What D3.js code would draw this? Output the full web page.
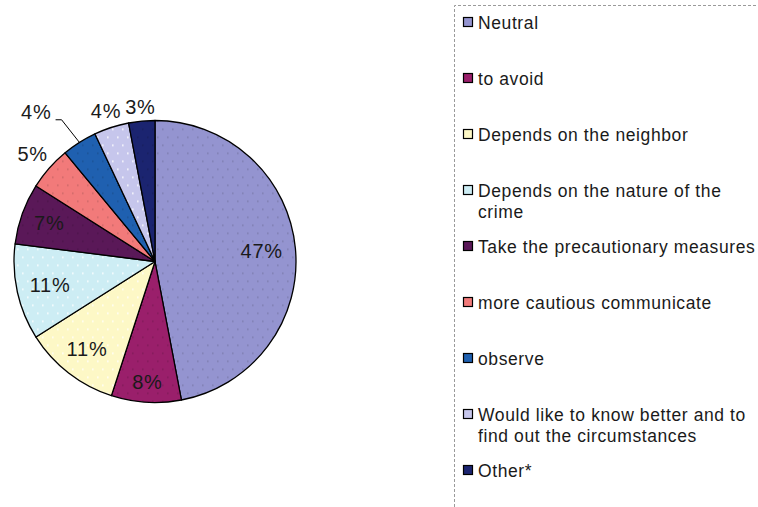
<!DOCTYPE html>
<html>
<head>
<meta charset="utf-8">
<script src="https://cdn.jsdelivr.net/npm/d3@7"></script>
<style>
  html, body { margin: 0; padding: 0; background: #fff; overflow: hidden; }
  svg { display: block; font-family: "Liberation Sans", Arial, sans-serif; }
</style>
</head>
<body>
<svg id="chart" width="758" height="507"></svg>
<script>
// ---- data ----
const categories = [
  "Neutral",
  "to avoid",
  "Depends on the neighbor",
  "Depends on the nature of the\ncrime",
  "Take the precautionary measures",
  "more cautious communicate",
  "observe",
  "Would like to know better and to\nfind out the circumstances",
  "Other*"
];
const values = [47, 8, 11, 11, 7, 5, 4, 4, 3];
const valueLabels = ["47%", "8%", "11%", "11%", "7%", "5%", "4%", "4%", "3%"];
const colors = ["#9494d0", "#9a1f6b", "#fdf8c6", "#cdedf4", "#5a1858",
                "#f27a7a", "#1f60b0", "#c6c6ec", "#1b2470"];

// ---- layout ----
const W = 758, H = 507;
const cx = 155, cy = 261.5, R = 141;
const svg = d3.select("#chart");

// dotted fill patterns
const defs = svg.append("defs");
colors.forEach((c, i) => {
  const hsl = d3.hsl(c);
  const dot = hsl.l > 0.85 ? "rgba(255,255,255,0.9)" : d3.color(c).darker(0.45).formatHex();
  const p = defs.append("pattern")
    .attr("id", "pat" + i).attr("patternUnits", "userSpaceOnUse")
    .attr("width", 10).attr("height", 16);
  p.append("rect").attr("width", 10).attr("height", 16).attr("fill", c);
  p.append("rect").attr("x", 2).attr("y", 3).attr("width", 1.6).attr("height", 1.6).attr("fill", dot);
  p.append("rect").attr("x", 7).attr("y", 11).attr("width", 1.6).attr("height", 1.6).attr("fill", dot);
});

const pie = d3.pie().sort(null).value(d => d);
const arcs = pie(values);
const arc = d3.arc().innerRadius(0).outerRadius(R);

const g = svg.append("g").attr("transform", `translate(${cx},${cy})`);
g.selectAll("path.slice").data(arcs).join("path")
  .attr("class", "slice")
  .attr("d", arc)
  .attr("fill", (d, i) => `url(#pat${i})`)
  .attr("stroke", "#000")
  .attr("stroke-width", 1.3)
  .attr("stroke-linejoin", "round");

// ---- value labels ----
const insideMin = 6;            // slices smaller than this get outside labels
const leaderIndex = 6;          // label moved away with a leader line
const leaderRadius = 1.355, leaderTurn = -6 * Math.PI / 180;
const labelG = g.append("g")
  .attr("font-size", 20).attr("fill", "#1a1a1a").attr("letter-spacing", 0.8);

arcs.forEach((d, i) => {
  const t = labelG.append("text").attr("text-anchor", "middle").text(valueLabels[i]);
  const bb = t.node().getBBox();
  const w = bb.width, h = 14;
  let a = (d.startAngle + d.endAngle) / 2;
  let sx = Math.sin(a), sy = -Math.cos(a);
  const proj = w / 2 * Math.abs(sx) + h / 2 * Math.abs(sy);
  let dist;
  if (d.data >= insideMin) dist = R - 12 - proj;
  else dist = R + 6 + proj;
  if (i === leaderIndex) {
    const a2 = a + leaderTurn;
    dist = R * leaderRadius;
    const lx = Math.sin(a2) * dist, ly = -Math.cos(a2) * dist;
    t.attr("x", lx).attr("y", ly + h / 2);
    const ex = Math.sin(a) * R, ey = -Math.cos(a) * R;
    const x0 = lx + w / 2 + 4, y0 = ly + h / 2 + 1;
    g.append("path")
      .attr("d", d3.line()([[x0, y0], [x0 + 6, y0], [ex, ey]]))
      .attr("fill", "none").attr("stroke", "#000").attr("stroke-width", 1);
  } else {
    t.attr("x", sx * dist).attr("y", sy * dist + h / 2);
  }
});

// ---- legend ----
const lx0 = 454.5, ly0 = 5.5;
svg.append("path")
  .attr("d", `M${lx0},${H + 5} L${lx0},${ly0} L${W + 5},${ly0}`)
  .attr("fill", "none").attr("stroke", "#9a9a9a")
  .attr("stroke-width", 1).attr("stroke-dasharray", "3,2");

const legendY = d3.scalePoint().domain(d3.range(categories.length))
  .range([29, 477]);
const leg = svg.append("g").attr("font-size", 17.5).attr("fill", "#1a1a1a")
  .attr("letter-spacing", 0.6);
categories.forEach((c, i) => {
  const y = legendY(i);
  leg.append("rect").attr("x", 463.5).attr("y", y - 11.5)
    .attr("width", 9).attr("height", 9)
    .attr("fill", colors[i]).attr("stroke", "#000").attr("stroke-width", 1.2);
  const t = leg.append("text").attr("x", 478).attr("y", y);
  c.split("\n").forEach((line, k) => {
    t.append("tspan").attr("x", 478).attr("dy", k === 0 ? 0 : 21).text(line);
  });
});
</script>
</body>
</html>
